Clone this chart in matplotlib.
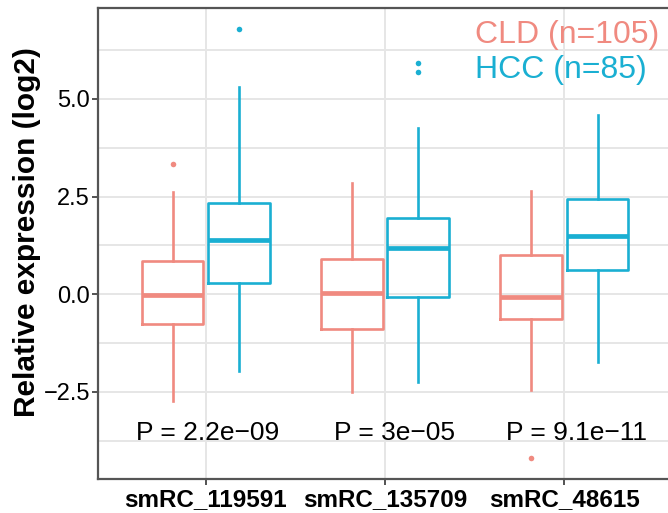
import matplotlib
matplotlib.use('Agg')
import matplotlib.pyplot as plt
import numpy as np

plt.rcParams['font.family'] = ['Liberation Sans', 'DejaVu Sans']

# Valores
genes = ['smRC_119591', 'smRC_135709', 'smRC_48615']
grupos = ['CLD (n=105)', 'HCC (n=85)']
p_labels = ['P = 2.2e\u221209', 'P = 3e\u221205', 'P = 9.1e\u221211']

cld_q1 = [-0.76, -0.89, -0.64]
cld_med = [-0.02, 0.04, -0.06]
cld_q3 = [0.85, 0.90, 1.01]
cld_lo = [-2.72, -2.49, -2.45]
cld_hi = [2.63, 2.84, 2.65]
cld_out = [[3.33], [], [-4.20]]

hcc_q1 = [0.30, -0.08, 0.62]
hcc_med = [1.39, 1.18, 1.49]
hcc_q3 = [2.33, 1.95, 2.43]
hcc_lo = [-1.96, -2.24, -1.74]
hcc_hi = [5.30, 4.25, 4.59]
hcc_out = [[6.79], [5.92, 5.70], []]

cores = ['#F08A80', '#1AAFD2']


def stats(q1, med, q3, lo, hi, out):
    return [dict(q1=a, med=b, q3=c, whislo=d, whishi=e, fliers=f)
            for a, b, c, d, e, f in zip(q1, med, q3, lo, hi, out)]


fig = plt.figure(figsize=(6.68, 5.13), dpi=100)
ax = fig.add_axes([0.1472, 0.0657, 0.8584, 0.918])

x = np.arange(1, len(genes) + 1)
desloc = 0.186
largura = 0.345

series = [stats(cld_q1, cld_med, cld_q3, cld_lo, cld_hi, cld_out),
          stats(hcc_q1, hcc_med, hcc_q3, hcc_lo, hcc_hi, hcc_out)]

for i, (st, cor) in enumerate(zip(series, cores)):
    pos = x + (i - 0.5) * 2 * desloc
    ax.bxp(st, positions=pos, widths=largura, showcaps=False, patch_artist=False,
           boxprops=dict(color=cor, linewidth=1.9),
           whiskerprops=dict(color=cor, linewidth=1.9),
           medianprops=dict(color=cor, linewidth=3.4, solid_capstyle='butt'),
           flierprops=dict(marker='o', markerfacecolor=cor, markeredgecolor='none',
                           markersize=4), zorder=3)

# textos dos p-valores
p_offset = [0.01, 0.053, 0.068]
for xi, lab, off in zip(x, p_labels, p_offset):
    ax.text(xi + off, -3.55, lab, ha='center', va='center', fontsize=19, color='black')

# legenda como texto colorido
ax.text(0.657, 0.944, grupos[0], transform=ax.transAxes, color=cores[0], fontsize=23,
        ha='left', va='center')
ax.text(0.657, 0.870, grupos[1], transform=ax.transAxes, color=cores[1], fontsize=23,
        ha='left', va='center')

ax.set_xlim(0.4, 3.6)
ax.set_ylim(-4.735, 7.32)
ax.set_xticks(x)
ax.set_xticklabels(genes, fontsize=17.5, fontweight='bold', color='black')
ax.set_yticks([-2.5, 0.0, 2.5, 5.0])
ax.set_yticklabels(['\u22122.5', '0.0', '2.5', '5.0'], fontsize=17, color='black')
ax.set_yticks([-3.75, -1.25, 1.25, 3.75, 6.25], minor=True)
ax.tick_params(axis='y', which='minor', length=0)
ax.tick_params(which='major', length=4, width=1.3, color='#444444', pad=2)

ax.grid(True, which='major', color='#E6E6E6', linewidth=1.4, zorder=0)
ax.grid(True, which='minor', axis='y', color='#E6E6E6', linewidth=1.4, zorder=0)
ax.set_axisbelow(True)

for s in ['left', 'bottom', 'top']:
    ax.spines[s].set_color('#555555')
    ax.spines[s].set_linewidth(1.6)
ax.spines['right'].set_visible(False)

ax.set_ylabel('Relative expression (log2)', fontsize=21.5, fontweight='bold')
ax.yaxis.set_label_coords(-0.1, 0.524)

fig.savefig('out.png', dpi=100)
